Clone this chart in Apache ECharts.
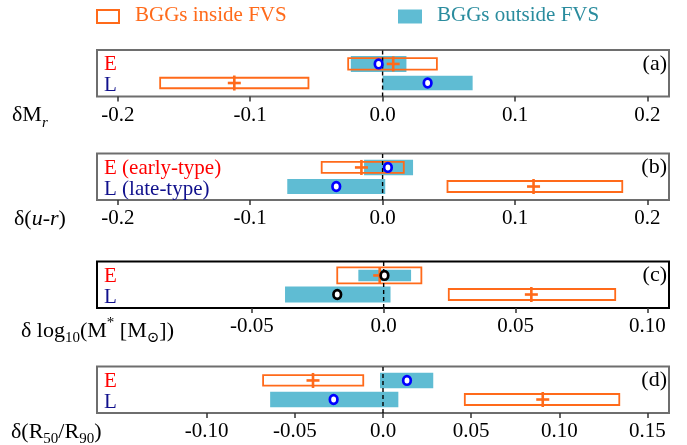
<!DOCTYPE html>
<html><head><meta charset="utf-8">
<script src="https://cdn.jsdelivr.net/npm/echarts@6/dist/echarts.min.js"></script>
<style>html,body{margin:0;padding:0;background:#fff}#c{width:687px;height:445px}</style>
</head><body><div id="c"></div>
<script>
// ---------------- DATA ----------------
const rowNames = ["E", "L"];
const rowNamesLong = ["E (early-type)", "L (late-type)"];
// (a) δM_r  — inside FVS (orange) and outside FVS (teal): [E, L]
const aInLow = [-0.026, -0.168], aInHigh = [0.041, -0.056], aInMed = [0.008, -0.112];
const aOutLow = [-0.024, 0.000], aOutHigh = [0.018, 0.068], aOutMed = [-0.003, 0.034];
const aTicks = [-0.2, -0.1, 0, 0.1, 0.2];
const aTickLabels = ["-0.2", "-0.1", "0.0", "0.1", "0.2"];
// (b) δ(u-r)
const bInLow = [-0.046, 0.049], bInHigh = [0.016, 0.181], bInMed = [-0.016, 0.114];
const bOutLow = [-0.014, -0.072], bOutHigh = [0.023, 0.002], bOutMed = [0.004, -0.035];
const bTicks = [-0.2, -0.1, 0, 0.1, 0.2];
const bTickLabels = ["-0.2", "-0.1", "0.0", "0.1", "0.2"];
// (c) δlog10(M*)
const cInLow = [-0.0176, 0.0247], cInHigh = [0.0143, 0.0878], cInMed = [-0.0015, 0.0560];
const cOutLow = [-0.0096, -0.0374], cOutHigh = [0.0104, 0.0026], cOutMed = [0.0003, -0.0176];
const cTicks = [-0.05, 0, 0.05, 0.10];
const cTickLabels = ["-0.05", "0.0", "0.05", "0.10"];
// (d) δ(R50/R90)
const dInLow = [-0.068, 0.0464], dInHigh = [-0.0112, 0.134], dInMed = [-0.0397, 0.0906];
const dOutLow = [-0.0017, -0.064], dOutHigh = [0.0285, 0.0087], dOutMed = [0.0136, -0.028];
const dTicks = [-0.10, -0.05, 0, 0.05, 0.10, 0.15];
const dTickLabels = ["-0.10", "-0.05", "0.0", "0.05", "0.10", "0.15"];

// ---------------- LAYOUT / STYLE ----------------
const ORANGE = '#ff6a1a', TEAL = '#5fbcd3', TEAL_TEXT = '#2a8c9e';
const FONT = 'Liberation Serif, Times New Roman, DejaVu Serif, serif';
const ROW_Y = [0.70, 0.29];
const panels = [
  {top: 50, range: [-0.2157, 0.2163], border: '#6e6e6e',
   inLow: aInLow, inHigh: aInHigh, inMed: aInMed, outLow: aOutLow, outHigh: aOutHigh, outMed: aOutMed,
   ticks: aTicks, labels: aTickLabels, circ: '#0000ff', tealH: [16, 14.5], orangeH: [11.5, 10.5], names: rowNames, letter: '(a)',
   title: '{n|δM}{subi|r}', titleX: 12},
  {top: 153.5, range: [-0.2157, 0.2163], border: '#6e6e6e',
   inLow: bInLow, inHigh: bInHigh, inMed: bInMed, outLow: bOutLow, outHigh: bOutHigh, outMed: bOutMed,
   ticks: bTicks, labels: bTickLabels, circ: '#0000ff', tealH: [15.5, 15], orangeH: [11, 11], names: rowNamesLong, letter: '(b)',
   title: '{n|δ(}{i|u}{n|-}{i|r}{n|)}', titleX: 14},
  {top: 261.5, range: [-0.1087, 0.1082], border: '#000000',
   inLow: cInLow, inHigh: cInHigh, inMed: cInMed, outLow: cOutLow, outHigh: cOutHigh, outMed: cOutMed,
   ticks: cTicks, labels: cTickLabels, circ: '#000000', tealH: [11.5, 16], orangeH: [16, 11], names: rowNames, letter: '(c)',
   title: '{n|δ log}{sub|10}{n|(M}{sup|*}{n| [M}{sub|⊙}{n|])}', titleX: 21},
  {top: 366.5, range: [-0.1622, 0.1622], border: '#6e6e6e',
   inLow: dInLow, inHigh: dInHigh, inMed: dInMed, outLow: dOutLow, outHigh: dOutHigh, outMed: dOutMed,
   ticks: dTicks, labels: dTickLabels, circ: '#0000ff', tealH: [15.5, 15.5], orangeH: [10.5, 11], names: rowNames, letter: '(d)',
   title: '{n|δ(R}{sub|50}{n|/R}{sub|90}{n|)}', titleX: 11}
];
const GRID_LEFT = 97, GRID_W = 572, GRID_H = 46.5;

const rich = {
  n: {fontSize: 22, fontFamily: FONT, color: '#000', lineHeight: 30, verticalAlign: 'middle'},
  i: {fontSize: 22, fontFamily: FONT, color: '#000', fontStyle: 'italic', lineHeight: 30, verticalAlign: 'middle'},
  subi: {fontSize: 15, fontFamily: FONT, color: '#000', fontStyle: 'italic', lineHeight: 30, verticalAlign: 'bottom'},
  sub: {fontSize: 15, fontFamily: FONT, color: '#000', lineHeight: 30, verticalAlign: 'bottom'},
  sup: {fontSize: 15, fontFamily: FONT, color: '#000', lineHeight: 30, verticalAlign: 'top'}
};

const grid = [], xAxis = [], yAxis = [], series = [], graphic = [];
panels.forEach((p, k) => {
  grid.push({left: GRID_LEFT, top: p.top, width: GRID_W, height: GRID_H, show: true,
    borderColor: p.border, borderWidth: 2, backgroundColor: 'transparent'});
  const ticks = p.ticks, labels = p.labels;
  xAxis.push({type: 'value', gridIndex: k, min: p.range[0], max: p.range[1],
    axisLine: {show: false}, splitLine: {show: false},
    axisTick: {show: true, customValues: ticks, length: 5, inside: false, lineStyle: {color: '#333', width: 1.5}},
    axisLabel: {show: true, customValues: ticks, margin: 8, fontSize: 21, fontFamily: FONT, color: '#000',
      formatter: v => { const i = ticks.findIndex(t => Math.abs(t - v) < 1e-9); return i >= 0 ? labels[i] : ''; }}});
  yAxis.push({type: 'value', gridIndex: k, min: 0, max: 1, show: false});

  const inData = p.inLow.map((v, i) => [v, p.inHigh[i], p.inMed[i], i]);
  const outData = p.outLow.map((v, i) => [v, p.outHigh[i], p.outMed[i], i]);

  const rectOf = (api, h) => {
    const r = api.value(3), y = ROW_Y[r];
    const p0 = api.coord([api.value(0), y]), p1 = api.coord([api.value(1), y]);
    return {x: p0[0], y: p0[1] - h / 2, width: p1[0] - p0[0], height: h};
  };
  series.push({type: 'custom', xAxisIndex: k, yAxisIndex: k, z: 2, silent: true, data: outData,
    encode: {x: [0, 1, 2], y: 3},
    renderItem: (params, api) => ({type: 'rect', shape: rectOf(api, p.tealH[api.value(3)]), style: {fill: TEAL}})});
  series.push({type: 'custom', xAxisIndex: k, yAxisIndex: k, z: 3, silent: true, data: inData,
    encode: {x: [0, 1, 2], y: 3},
    renderItem: (params, api) => ({type: 'rect', shape: rectOf(api, p.orangeH[api.value(3)]),
      style: {fill: 'none', stroke: ORANGE, lineWidth: 1.8}})});
  series.push({type: 'custom', xAxisIndex: k, yAxisIndex: k, z: 4, silent: true, data: [[0]],
    encode: {x: 0},
    renderItem: (params, api) => {
      const a = api.coord([0, 0]), b = api.coord([0, 1]);
      return {type: 'line', shape: {x1: a[0], y1: a[1], x2: b[0], y2: b[1]},
        style: {stroke: '#000', lineWidth: 1.4, lineDash: [4, 3]}};
    }});
  series.push({type: 'custom', xAxisIndex: k, yAxisIndex: k, z: 5, silent: true, data: inData,
    encode: {x: [0, 1, 2], y: 3},
    renderItem: (params, api) => {
      const c = api.coord([api.value(2), ROW_Y[api.value(3)]]);
      return {type: 'group', children: [
        {type: 'line', shape: {x1: c[0] - 6.5, y1: c[1], x2: c[0] + 6.5, y2: c[1]}, style: {stroke: ORANGE, lineWidth: 2.6}},
        {type: 'line', shape: {x1: c[0], y1: c[1] - 7.5, x2: c[0], y2: c[1] + 7.5}, style: {stroke: ORANGE, lineWidth: 2.6}}
      ]};
    }});
  series.push({type: 'custom', xAxisIndex: k, yAxisIndex: k, z: 6, silent: true, data: outData,
    encode: {x: [0, 1, 2], y: 3},
    renderItem: (params, api) => {
      const c = api.coord([api.value(2), ROW_Y[api.value(3)]]);
      return {type: 'ellipse', shape: {cx: c[0], cy: c[1], rx: 3.8, ry: 4.3},
        style: {fill: '#fff', stroke: p.circ, lineWidth: 2.7}};
    }});

  graphic.push({type: 'text', left: 104, top: p.top + 4, z: 10,
    style: {text: p.names[0], fill: '#ff0000', fontSize: 21, fontFamily: FONT}});
  graphic.push({type: 'text', left: 104, top: p.top + 25, z: 10,
    style: {text: p.names[1], fill: '#10108c', fontSize: 21, fontFamily: FONT}});
  graphic.push({type: 'text', right: 687 - 667, top: p.top + 3, z: 10,
    style: {text: p.letter, fill: '#000', fontSize: 22, fontFamily: FONT, align: 'right'}});
  graphic.push({type: 'text', left: p.titleX, top: p.top + GRID_H + 8, z: 10,
    style: {text: p.title, rich: rich}});
});

graphic.push({type: 'rect', shape: {x: 97, y: 10, width: 22, height: 13}, style: {fill: 'none', stroke: ORANGE, lineWidth: 2}});
graphic.push({type: 'text', left: 135, top: 5, style: {text: 'BGGs inside FVS', fill: ORANGE, fontSize: 21, fontFamily: FONT}});
graphic.push({type: 'rect', shape: {x: 398, y: 9.5, width: 24, height: 14}, style: {fill: TEAL}});
graphic.push({type: 'text', left: 437, top: 5, style: {text: 'BGGs outside FVS', fill: TEAL_TEXT, fontSize: 21, fontFamily: FONT}});

const chart = echarts.init(document.getElementById('c'), null, {renderer: 'canvas'});
chart.setOption({animation: false, backgroundColor: '#fff', grid, xAxis, yAxis, series, graphic});
</script></body></html>
